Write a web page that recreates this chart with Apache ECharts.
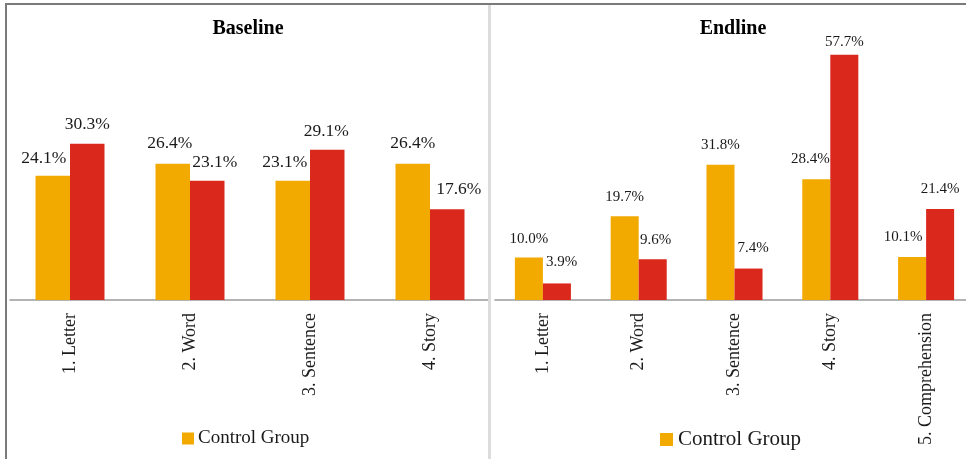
<!DOCTYPE html>
<html>
<head>
<meta charset="utf-8">
<script src="https://cdn.jsdelivr.net/npm/echarts@6/dist/echarts.min.js"></script>
<style>
html,body{margin:0;padding:0;background:#fff;overflow:hidden;width:966px;height:459px;}
#chart{width:1000px;height:459px;}
</style>
</head>
<body>
<div id="chart"></div>
<script>
// ---- data ----
const baselineCategories = ['1. Letter', '2. Word', '3. Sentence', '4. Story'];
const baselineControl = [24.1, 26.4, 23.1, 26.4];
const baselineTreatment = [30.3, 23.1, 29.1, 17.6];

const endlineCategories = ['1. Letter', '2. Word', '3. Sentence', '4. Story', '5. Comprehension'];
const endlineControl = [10.0, 19.7, 31.8, 28.4, 10.1];
const endlineTreatment = [3.9, 9.6, 7.4, 57.7, 21.4];

const seriesNames = ['Control Group', 'Treatment Group'];

// ---- label nudges (style only) ----
const baseCtrlNudge = [[-9, 2], [-3, -1], [-8, 1], [0, -1]];
const baseTreatNudge = [[0, 0], [7.5, 1], [-1, 1], [11.5, -1]];
const endCtrlNudge = [[0, 2], [0, 1], [0, 0], [-6, 0], [-9, 0]];
const endTreatNudge = [[4.7, -1], [3, 1], [4.7, 0], [0, 7], [0, 0]];

const FONT = '"Liberation Serif", "Times New Roman", serif';
const ORANGE = '#F2A900';
const RED = '#DA291C';

function withLabels(values, nudges) {
  return values.map((v, i) => ({
    value: v,
    label: { offset: nudges[i] }
  }));
}

function barSeries(name, values, nudges, color, xi, fontSize, dist, gap) {
  return {
    type: 'bar',
    name: name,
    xAxisIndex: xi,
    yAxisIndex: xi,
    data: withLabels(values, nudges),
    barGap: '0%',
    barCategoryGap: gap,
    itemStyle: { color: color },
    label: {
      show: true,
      position: 'top',
      distance: dist,
      fontFamily: FONT,
      fontSize: fontSize,
      color: '#1a1a1a',
      formatter: p => p.value.toFixed(1) + '%'
    },
    emphasis: { disabled: true }
  };
}

const chart = echarts.init(document.getElementById('chart'), null, { renderer: 'canvas' });

const axisLabelStyle = {
  rotate: 90,
  margin: 13,
  fontFamily: FONT,
  fontSize: 18,
  color: '#1a1a1a',
  interval: 0
};

chart.setOption({
  animation: false,
  backgroundColor: '#fff',
  title: [
    { text: 'Baseline', left: 243, top: 14, textAlign: 'center',
      textStyle: { fontFamily: FONT, fontSize: 20, fontWeight: 'bold', color: '#000' } },
    { text: 'Endline', left: 728, top: 14, textAlign: 'center',
      textStyle: { fontFamily: FONT, fontSize: 20, fontWeight: 'bold', color: '#000' } }
  ],
  legend: [
    { data: [seriesNames[0]], left: 182, top: 429, padding: 0, itemWidth: 12, itemHeight: 12, itemGap: 0,
      icon: 'rect', textStyle: { fontFamily: FONT, fontSize: 19, color: '#1a1a1a', padding: [0, 0, 0, -1] } },
    { data: [seriesNames[0]], left: 660, top: 429, padding: 0, itemWidth: 13, itemHeight: 13, itemGap: 0,
      icon: 'rect', textStyle: { fontFamily: FONT, fontSize: 21, color: '#1a1a1a', padding: [0, 0, 0, 0] } }
  ],
  grid: [
    { left: 10, width: 480, top: 42, height: 258 },
    { left: 495, width: 479, top: 45, height: 255 }
  ],
  xAxis: [
    { type: 'category', gridIndex: 0, data: baselineCategories,
      axisLine: { lineStyle: { color: '#9a9a9a', width: 1.5 } },
      axisTick: { show: false }, axisLabel: axisLabelStyle },
    { type: 'category', gridIndex: 1, data: endlineCategories,
      axisLine: { lineStyle: { color: '#9a9a9a', width: 1.5 } },
      axisTick: { show: false }, axisLabel: axisLabelStyle }
  ],
  yAxis: [
    { type: 'value', gridIndex: 0, min: 0, max: 50, show: false, splitLine: { show: false } },
    { type: 'value', gridIndex: 1, min: 0, max: 60, show: false, splitLine: { show: false } }
  ],
  series: [
    barSeries(seriesNames[0], baselineControl, baseCtrlNudge, ORANGE, 0, 17.5, 10, '42.5%'),
    barSeries(seriesNames[1], baselineTreatment, baseTreatNudge, RED, 0, 17.5, 10, '42.5%'),
    barSeries(seriesNames[0], endlineControl, endCtrlNudge, ORANGE, 1, 15, 12.5, '41.5%'),
    barSeries(seriesNames[1], endlineTreatment, endTreatNudge, RED, 1, 15, 12.5, '41.5%')
  ],
  graphic: [
    { type: 'line', silent: true, z: 100, shape: { x1: 5, y1: 4, x2: 1000, y2: 4 },
      style: { stroke: '#7a7a7a', lineWidth: 2 } },
    { type: 'line', silent: true, z: 100, shape: { x1: 6, y1: 3, x2: 6, y2: 459 },
      style: { stroke: '#7a7a7a', lineWidth: 2 } },
    { type: 'line', silent: true, z: 100, shape: { x1: 489.5, y1: 5, x2: 489.5, y2: 459 },
      style: { stroke: '#dcdcdc', lineWidth: 3 } }
  ]
});
</script>
</body>
</html>
